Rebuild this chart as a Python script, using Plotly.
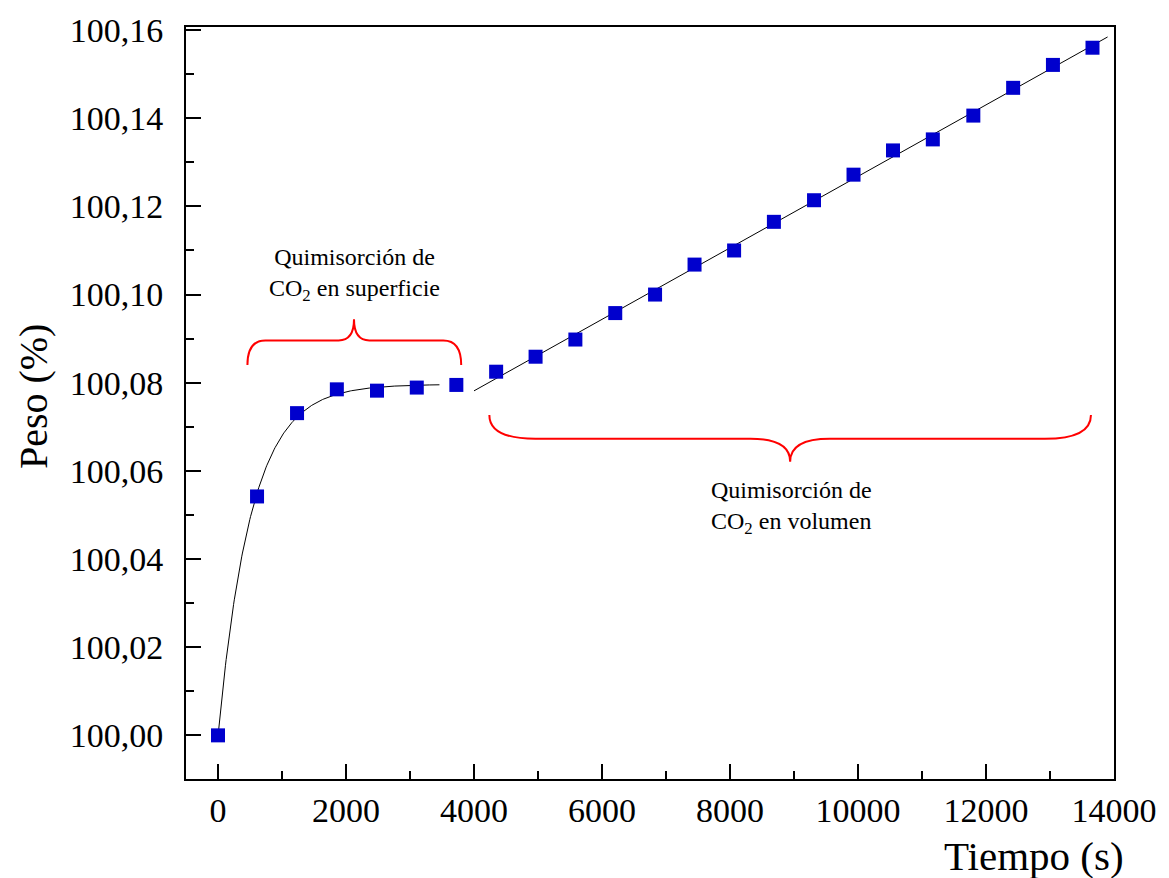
import numpy as np
import plotly.graph_objects as go

# Measured TGA data: time (s) and weight (%)
tiempo = [0, 610, 1235, 1857, 2484, 3106, 3724, 4346, 4962, 5584, 6207, 6829,
          7446, 8064, 8686, 9313, 9930, 10547, 11169, 11802, 12424, 13046, 13664]
peso = [100.0000, 100.0542, 100.0731, 100.0785, 100.0782, 100.0789, 100.0795,
        100.0825, 100.0859, 100.0898, 100.0958, 100.1000, 100.1068, 100.1100,
        100.1165, 100.1214, 100.1272, 100.1327, 100.1352, 100.1406, 100.1469,
        100.1521, 100.1560]

x_ticks = [0, 2000, 4000, 6000, 8000, 10000, 12000, 14000]
y_ticks = [100.00, 100.02, 100.04, 100.06, 100.08, 100.10, 100.12, 100.14, 100.16]
y_tick_text = ["100,00", "100,02", "100,04", "100,06", "100,08",
               "100,10", "100,12", "100,14", "100,16"]

t = np.array(tiempo, dtype=float)
w = np.array(peso, dtype=float)

# Surface stage: exponential saturation fit  w = w_inf - A*exp(-t/tau)
n_sup = 7
ts, ws = t[:n_sup], w[:n_sup]
best = None
for tau in np.linspace(100, 2000, 1901):
    M = np.column_stack([np.ones_like(ts), -np.exp(-ts / tau)])
    coef, res, *_ = np.linalg.lstsq(M, ws, rcond=None)
    err = np.sum((M @ coef - ws) ** 2)
    if best is None or err < best[0]:
        best = (err, tau, coef)
_, tau_f, (w_inf, amp) = best
t_exp = np.linspace(0, 3460, 300)
w_exp = w_inf - amp * np.exp(-t_exp / tau_f)

# Bulk stage: linear fit
slope, icpt = np.polyfit(t[n_sup:], w[n_sup:], 1)
t_lin = np.array([4000, 13900])
w_lin = slope * t_lin + icpt

serif = "Liberation Serif"

fig = go.Figure()
fig.add_trace(go.Scatter(x=t_exp, y=w_exp, mode="lines",
                         line=dict(color="black", width=1), hoverinfo="skip"))
fig.add_trace(go.Scatter(x=t_lin, y=w_lin, mode="lines",
                         line=dict(color="black", width=1), hoverinfo="skip"))
fig.add_trace(go.Scatter(x=tiempo, y=peso, mode="markers",
                         marker=dict(symbol="square", size=14, color="#0000CD",
                                     line=dict(width=0))))


def brace(x0, x1, xc, y_end, y_mid, y_tip, r_end, r_tip):
    return (f"M {x0},{y_end} Q {x0},{y_mid} {x0 + r_end},{y_mid} "
            f"L {xc - r_tip},{y_mid} Q {xc},{y_mid} {xc},{y_tip} "
            f"Q {xc},{y_mid} {xc + r_tip},{y_mid} "
            f"L {x1 - r_end},{y_mid} Q {x1},{y_mid} {x1},{y_end}")


red = dict(color="#FF0000", width=2)
fig.add_shape(type="path", xref="x", yref="y", line=red,
              path=brace(460, 3800, 2125, 100.0840, 100.0896, 100.0944, 280, 240))
fig.add_shape(type="path", xref="x", yref="y", line=red,
              path=brace(4240, 13640, 8940, 100.0727, 100.0673, 100.0621, 720, 620))

ann_font = dict(family=serif, size=24, color="black")
fig.add_annotation(x=2126, y=100.1045, xref="x", yref="y", showarrow=False,
                   text="Quimisorción de<br>CO<sub>2</sub> en superficie",
                   font=ann_font, align="center", xanchor="center", yanchor="middle")
fig.add_annotation(x=7678, y=100.0517, xref="x", yref="y", showarrow=False,
                   text="Quimisorción de<br>CO<sub>2</sub> en volumen",
                   font=ann_font, align="left", xanchor="left", yanchor="middle")

# Axis titles
fig.add_annotation(x=-0.165, y=0.509, xref="paper", yref="paper", showarrow=False,
                   text="Peso (%)", textangle=-90,
                   font=dict(family=serif, size=40, color="black"),
                   xanchor="center", yanchor="middle")
fig.add_annotation(x=0.914, y=-0.103, xref="paper", yref="paper", showarrow=False,
                   text="Tiempo (s)",
                   font=dict(family=serif, size=41, color="black"),
                   xanchor="center", yanchor="middle")

axis_common = dict(showgrid=False, zeroline=False, showline=True, linecolor="black",
                   linewidth=2, mirror=True, ticks="inside", ticklen=15, tickwidth=2,
                   tickcolor="black",
                   tickfont=dict(family=serif, size=34, color="black"))

fig.update_xaxes(range=[-500, 14000], tickvals=x_ticks, ticktext=[str(v) for v in x_ticks],
                 minor=dict(ticks="inside", ticklen=8, tickwidth=2, dtick=1000,
                            tickcolor="black", tick0=0),
                 ticklabelstandoff=0, **axis_common)
fig.update_yaxes(range=[99.9901, 100.1607], tickvals=y_ticks, ticktext=y_tick_text,
                 minor=dict(ticks="inside", ticklen=8, tickwidth=2, dtick=0.01,
                            tickcolor="black", tick0=100.0),
                 ticklabelstandoff=14, **axis_common)

fig.update_layout(width=1169, height=878, showlegend=False,
                  paper_bgcolor="white", plot_bgcolor="white",
                  margin=dict(l=186, r=51, t=23, b=99))

fig.write_html("out.html")
